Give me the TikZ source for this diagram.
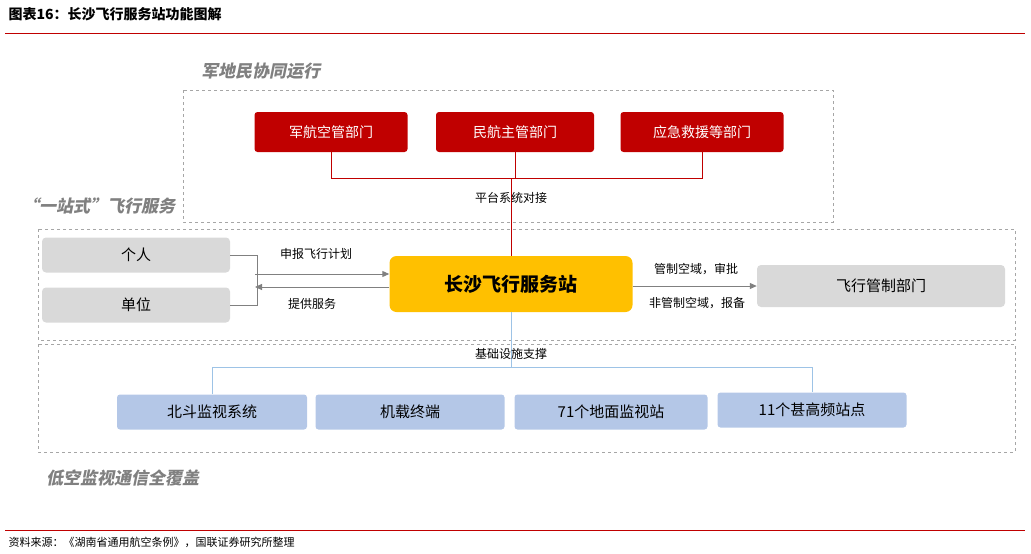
\documentclass[tikz,border=0pt]{standalone}
\usepackage{fontspec}
\setmainfont{Noto Sans CJK SC}
\usetikzlibrary{arrows.meta}
\definecolor{dred}{HTML}{C00000}
\definecolor{lgray}{HTML}{D9D9D9}
\definecolor{lblue}{HTML}{B4C7E7}
\definecolor{lineblue}{HTML}{9DC3E6}
\definecolor{gold}{HTML}{FFC000}
\definecolor{ttl}{HTML}{808080}
\tikzset{
  redbox/.style={fill=dred,rounded corners=3pt,text=white,font=\fontsize{14}{14}\selectfont,inner sep=0pt},
  graybox/.style={fill=lgray,rounded corners=4pt,font=\fontsize{15}{15}\selectfont,inner sep=0pt},
  bluebox/.style={fill=lblue,rounded corners=3pt,font=\fontsize{15}{15}\selectfont,inner sep=0pt},
  dbox/.style={draw=gray!70,dashed,line width=0.6pt},
  sect/.style={text=ttl,font=\fontsize{17}{17}\selectfont\bfseries,xslant=0.2,transform shape},
  lbl/.style={font=\fontsize{12}{12}\selectfont},
  gline/.style={draw=gray,line width=1pt},
  garr/.style={gline,-{Triangle[length=7pt,width=6pt]}},
}
\begin{document}
\begin{tikzpicture}[x=1pt,y=-1pt]
\useasboundingbox (0,0) rectangle (1031,554);
\node[anchor=west,font=\fontsize{14}{14}\selectfont\bfseries] (title) at (5,14) {图表16：长沙飞行服务站功能图解};
\draw[dred,line width=0.8pt] (5,33) coordinate (t1) -- (1025,33) coordinate (t2);
\draw[dred,line width=0.8pt] (5,530) coordinate (b1) -- (1025,530) coordinate (b2);
\node[anchor=west,font=\fontsize{11}{11}\selectfont] (src) at (5,542) {资料来源：《湖南省通用航空条例》，国联证券研究所整理};

\draw[dbox] (183,90) rectangle (833,222);
\draw[dbox] (38,229) rectangle (1015,340);
\draw[dbox] (38,344) rectangle (1015,452);
\node[sect] (s1) at (262,71) {军地民协同运行};
\node[sect,fill=white,inner xsep=1pt] (s2) at (100,206) {“一站式”飞行服务};
\node[sect] (s3) at (124,478) {低空监视通信全覆盖};

\node[redbox,minimum width=153pt,minimum height=40pt] (r1) at (331,132) {军航空管部门};
\node[redbox,minimum width=158pt,minimum height=40pt] (r2) at (515,132) {民航主管部门};
\node[redbox,minimum width=163pt,minimum height=40pt] (r3) at (702,132) {应急救援等部门};

\node[fill=gold,rounded corners=7pt,minimum width=243pt,minimum height=56pt,inner sep=0pt,font=\fontsize{19}{19}\selectfont\bfseries] (st) at (511,284) {长沙飞行服务站};

\draw[dred,line width=0.8pt] (r1.south) -- (331,178) -- (702,178) -- (r3.south);
\draw[dred,line width=0.8pt] (r2.south) -- (515,178);
\draw[dred,line width=0.8pt] (511,178) -- (st.north);
\node[lbl] (l1) at (511,198) {平台系统对接};

\node[graybox,minimum width=188pt,minimum height=35pt] (p1) at (136,255) {个人};
\node[graybox,minimum width=188pt,minimum height=35pt] (p2) at (136,305) {单位};
\draw[gline] (p1.east) -- (257,255) -- (257,305) -- (p2.east);
\draw[garr] (255,274) -- (st.west |- 0,274);
\draw[garr] (st.west |- 0,287) -- (255,287);
\node[lbl] (l2) at (316,254) {申报飞行计划};
\node[lbl] (l3) at (312,304) {提供服务};

\node[graybox,minimum width=248pt,minimum height=42pt] (fc) at (881,286) {飞行管制部门};
\draw[garr] (st.east |- fc.west) -- (fc.west);
\node[lbl] (l4) at (696,269) {管制空域，审批};
\node[lbl] (l5) at (697,303) {非管制空域，报备};

\node[bluebox,minimum width=190pt,minimum height=35pt] (q1) at (212,412) {北斗监视系统};
\node[bluebox,minimum width=189pt,minimum height=35pt] (q2) at (410,412) {机载终端};
\node[bluebox,minimum width=193pt,minimum height=35pt] (q3) at (611,412) {71个地面监视站};
\node[bluebox,minimum width=189pt,minimum height=35pt] (q4) at (812,410) {11个甚高频站点};
\draw[lineblue,line width=1pt] (st.south) -- (511,367);
\draw[lineblue,line width=1pt] (q1.north) -- (212,367) -- (812,367) -- (q4.north);
\node[lbl] (l6) at (511,354) {基础设施支撑};
\end{tikzpicture}
\end{document}
